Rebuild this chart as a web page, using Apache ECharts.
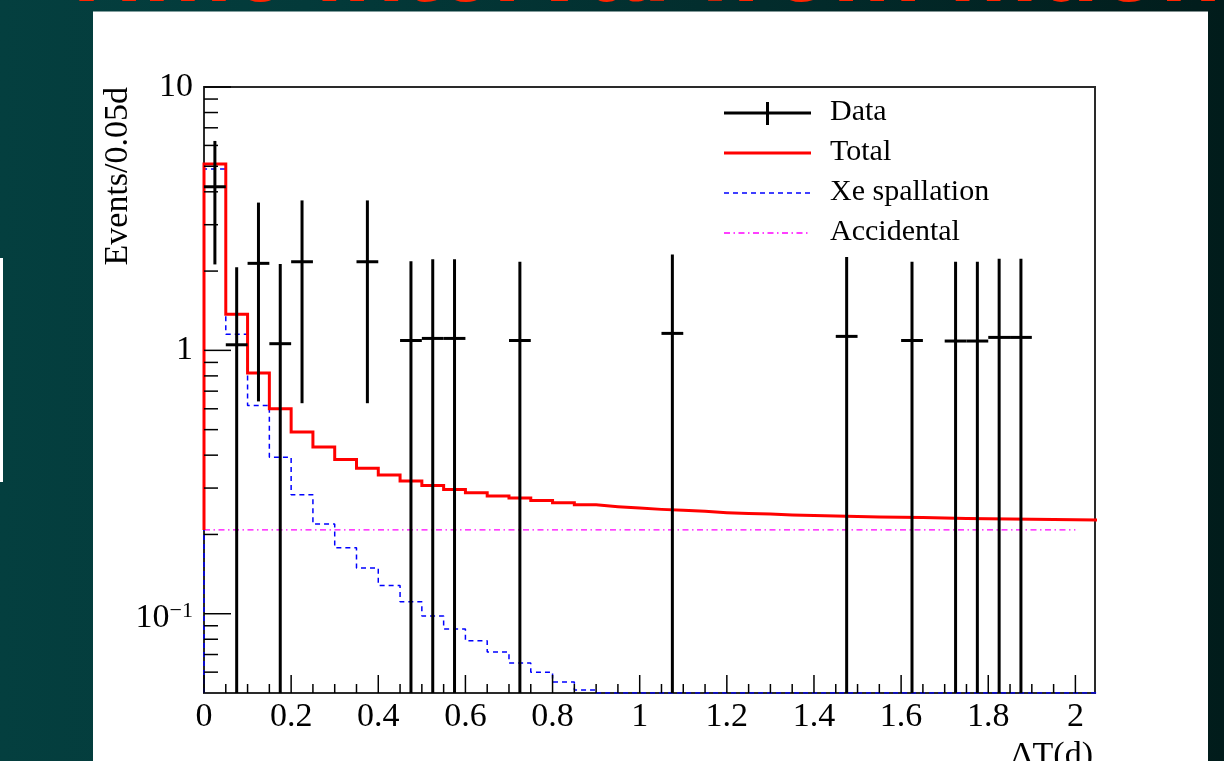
<!DOCTYPE html>
<html>
<head>
<meta charset="utf-8">
<script src="https://cdn.jsdelivr.net/npm/echarts@6/dist/echarts.min.js"></script>
<style>
  html, body { margin: 0; padding: 0; width: 1224px; height: 761px; overflow: hidden;
    background: linear-gradient(to right, #043f3f 0%, #033a3a 25%, #022b2b 65%, #011c1b 100%); }
  #chart { width: 1224px; height: 761px; }
</style>
</head>
<body>
<div id="chart"></div>
<script>
// Histogram binning (days)
const binWidth = 0.05;

// Fitted components per 0.05 d bin, starting at 0
const totalValues = [
  5.10, 1.37, 0.82, 0.60, 0.49, 0.43, 0.385, 0.357, 0.336, 0.319,
  0.307, 0.296, 0.288, 0.280, 0.275, 0.269, 0.264, 0.259, 0.255, 0.252,
  0.249, 0.247, 0.245, 0.242, 0.240, 0.239, 0.237, 0.236, 0.235, 0.234,
  0.233, 0.2325, 0.232, 0.231, 0.230, 0.2295, 0.229, 0.2285, 0.228, 0.2275,
  0.227
];
const xeValues = [
  4.88, 1.15, 0.618, 0.393, 0.283, 0.219, 0.178, 0.149, 0.128, 0.111,
  0.098, 0.0875, 0.079, 0.0715, 0.065, 0.060, 0.055, 0.0513, 0.048, 0.044,
  0.041, 0.039, 0.037, 0.034, 0.032, 0.031, 0.029, 0.028, 0.027, 0.026,
  0.025, 0.024, 0.024, 0.023, 0.022, 0.022, 0.021, 0.020, 0.020, 0.019,
  0.019
];
const accidentalLevel = 0.208;
const accidentalRange = [0, 2.0];

// Observed events: bin centre, content and error
const dataX   = [0.025, 0.075, 0.125, 0.175, 0.225, 0.375, 0.475, 0.525, 0.575, 0.725, 1.075, 1.475, 1.625, 1.725, 1.775, 1.825, 1.875];
const dataY   = [4.18, 1.05, 2.14, 1.06, 2.17, 2.17, 1.09, 1.11, 1.11, 1.09, 1.16, 1.13, 1.09, 1.085, 1.085, 1.12, 1.12];
const dataErr = [2.06, 1.02, 1.50, 1.07, 1.54, 1.54, 1.09, 1.11, 1.11, 1.08, 1.15, 1.13, 1.08, 1.085, 1.085, 1.11, 1.11];

// Axes
const xMin = 0, xMax = 2.045;
const yMin = 0.05, yMax = 10;
const xMajorTicks = [0, 0.2, 0.4, 0.6, 0.8, 1.0, 1.2, 1.4, 1.6, 1.8, 2.0];
const xTickLabels = ['0', '0.2', '0.4', '0.6', '0.8', '1', '1.2', '1.4', '1.6', '1.8', '2'];
const yMajorTicks = [0.1, 1, 10];
const yLabelBase = ['10', '1', '10'];
const yLabelExp  = ['\u22121', '', ''];
const yMinorTicks = [0.06, 0.07, 0.08, 0.09, 0.2, 0.3, 0.4, 0.5, 0.6, 0.7, 0.8, 0.9, 2, 3, 4, 5, 6, 7, 8, 9];

const titleText = 'Time interval from muon';
const yTitle = 'Events/0.05d';
const xTitle = '\u0394T(d)';
const legendNames = ['Data', 'Total', 'Xe spallation', 'Accidental'];

const SERIF = '"Liberation Serif", "DejaVu Serif", serif';
const RED = '#ff0000', BLUE = '#0000ff', MAGENTA = '#ff00ff';

// Step outline of a binned histogram, rising from startLevel at x = 0
function stepPoints(values, startLevel) {
  const pts = [[0, startLevel]];
  values.forEach((v, i) => {
    const shown = Math.max(v, yMin);
    pts.push([i * binWidth, shown], [(i + 1) * binWidth, shown]);
  });
  return pts;
}

// minor x ticks every bin width, skipping the major ones
const xMinorTicks = [];
for (let i = 0; i * binWidth <= xMax + 1e-9; i++) {
  const v = +(i * binWidth).toFixed(3);
  if (!xMajorTicks.some(m => Math.abs(m - v) < 1e-9)) xMinorTicks.push(v);
}

const xTickData = xMajorTicks.map(v => [v, yMin, 18]).concat(xMinorTicks.map(v => [v, yMin, 9]));
const yTickData = yMajorTicks.map((v, i) => [xMin, v, 27, i]).concat(yMinorTicks.map(v => [xMin, v, 14, -1]));

const chart = echarts.init(document.getElementById('chart'), null, { renderer: 'canvas' });

const legendRowY = [113, 153, 193, 233];
const legendLineX = [724, 811];
const legendTextX = 830;

const option = {
  animation: false,
  backgroundColor: 'transparent',
  grid: {
    left: 204, top: 87, width: 891, height: 606,
    show: true, borderColor: '#2a2a2a', borderWidth: 2, backgroundColor: 'transparent'
  },
  xAxis: {
    type: 'value', min: xMin, max: xMax, interval: 0.2,
    axisLine: { show: false }, axisTick: { show: false }, splitLine: { show: false },
    axisLabel: {
      margin: 7, color: '#000', fontFamily: SERIF, fontSize: 34,
      formatter: function (v) {
        const i = xMajorTicks.findIndex(m => Math.abs(m - v) < 1e-6);
        return i >= 0 ? xTickLabels[i] : '';
      }
    }
  },
  yAxis: {
    type: 'log', logBase: 10, min: yMin, max: yMax,
    axisLine: { show: false }, axisTick: { show: false }, splitLine: { show: false },
    axisLabel: { show: false }
  },
  graphic: [
    { type: 'text', z: -30, silent: true,
      style: { text: titleText, x: 56, y: -27, fill: '#ff2400',
        font: 'bold 100px "Liberation Sans", Arial, sans-serif', align: 'left', verticalAlign: 'middle' } },
    { type: 'rect', z: -20, silent: true, shape: { x: 93, y: 11.5, width: 1115, height: 760 }, style: { fill: '#ffffff' } },
    { type: 'rect', z: -20, silent: true, shape: { x: 0, y: 258, width: 3, height: 224 }, style: { fill: '#ffffff' } },
    { type: 'text', silent: true, rotation: Math.PI / 2, x: 118, y: 87,
      style: { text: yTitle, fill: '#000', font: '34px ' + SERIF, align: 'right', verticalAlign: 'middle' } },
    { type: 'text', silent: true,
      style: { text: xTitle, x: 1093, y: 756, fill: '#000', font: '34px ' + SERIF, align: 'right', verticalAlign: 'middle' } },
    // legend
    { type: 'group', silent: true, children: [
      { type: 'line', shape: { x1: legendLineX[0], y1: legendRowY[0], x2: legendLineX[1], y2: legendRowY[0] }, style: { stroke: '#000', lineWidth: 3 } },
      { type: 'line', shape: { x1: 767.5, y1: legendRowY[0] - 11, x2: 767.5, y2: legendRowY[0] + 12 }, style: { stroke: '#000', lineWidth: 3 } },
      { type: 'line', shape: { x1: legendLineX[0], y1: legendRowY[1], x2: legendLineX[1], y2: legendRowY[1] }, style: { stroke: RED, lineWidth: 3 } },
      { type: 'line', shape: { x1: legendLineX[0], y1: legendRowY[2], x2: legendLineX[1], y2: legendRowY[2] }, style: { stroke: BLUE, lineWidth: 1.5, lineDash: [5, 4] } },
      { type: 'line', shape: { x1: legendLineX[0], y1: legendRowY[3], x2: legendLineX[1], y2: legendRowY[3] }, style: { stroke: MAGENTA, lineWidth: 1.3, lineDash: [6, 3.5, 1.5, 3.5] } },
      ...legendNames.map((n, i) => ({ type: 'text',
        style: { text: n, x: legendTextX, y: legendRowY[i] - 1, fill: '#000', font: '30px ' + SERIF, align: 'left', verticalAlign: 'middle' } }))
    ] }
  ],
  series: [
    {
      name: 'Accidental', type: 'line', z: 3, showSymbol: false, symbol: 'none', clip: true,
      data: [[accidentalRange[0], accidentalLevel], [accidentalRange[1], accidentalLevel]],
      lineStyle: { color: MAGENTA, width: 1.3, type: [6, 3.5, 1.5, 3.5] }
    },
    {
      name: 'Xe spallation', type: 'line', z: 4, showSymbol: false, symbol: 'none', clip: true,
      data: stepPoints(xeValues, yMin),
      lineStyle: { color: BLUE, width: 1.5, type: [5, 4] }
    },
    {
      name: 'Total', type: 'line', z: 5, showSymbol: false, symbol: 'none', clip: true,
      data: stepPoints(totalValues, accidentalLevel),
      lineStyle: { color: RED, width: 3, join: 'miter' }
    },
    {
      name: 'Data', type: 'custom', z: 6, clip: true,
      data: dataX.map((x, i) => [x, dataY[i], dataErr[i]]),
      encode: { x: 0, y: 1 },
      renderItem: function (params, api) {
        const x = api.value(0), y = api.value(1), e = api.value(2);
        const lo = Math.max(y - e, yMin);
        const pTop = api.coord([x, y + e]);
        const pLo = api.coord([x, lo]);
        const pL = api.coord([x - binWidth / 2, y]);
        const pR = api.coord([x + binWidth / 2, y]);
        return { type: 'group', children: [
          { type: 'line', shape: { x1: pTop[0], y1: pTop[1], x2: pLo[0], y2: pLo[1] }, style: { stroke: '#000', lineWidth: 3 } },
          { type: 'line', shape: { x1: pL[0], y1: pL[1], x2: pR[0], y2: pR[1] }, style: { stroke: '#000', lineWidth: 3 } }
        ] };
      }
    },
    {
      name: 'xTicks', type: 'custom', z: 7, silent: true,
      data: xTickData, encode: { x: 0, y: 1 },
      renderItem: function (params, api) {
        const p = api.coord([api.value(0), yMin]);
        const len = api.value(2);
        return { type: 'line', shape: { x1: p[0], y1: p[1], x2: p[0], y2: p[1] - len }, style: { stroke: '#000', lineWidth: 1.5 } };
      }
    },
    {
      name: 'yTicks', type: 'custom', z: 7, silent: true,
      data: yTickData, encode: { x: 0, y: 1 },
      renderItem: function (params, api) {
        const p = api.coord([xMin, api.value(1)]);
        const len = api.value(2);
        const idx = api.value(3);
        const children = [
          { type: 'line', shape: { x1: p[0], y1: p[1], x2: p[0] + len, y2: p[1] }, style: { stroke: '#000', lineWidth: 1.5 } }
        ];
        if (idx >= 0) {
          const exp = yLabelExp[idx];
          children.push({ type: 'text', style: {
            text: exp ? '{b|' + yLabelBase[idx] + '}{s|' + exp + '}' : '{b|' + yLabelBase[idx] + '}',
            x: p[0] - 11, y: p[1] + (exp ? 4 : 0), align: 'right', verticalAlign: 'middle',
            rich: {
              b: { fontFamily: SERIF, fontSize: 34, color: '#000', lineHeight: 36 },
              s: { fontFamily: SERIF, fontSize: 22, color: '#000', verticalAlign: 'top', lineHeight: 22 }
            }
          } });
        }
        return { type: 'group', children: children };
      }
    }
  ]
};

chart.setOption(option);
</script>
</body>
</html>
